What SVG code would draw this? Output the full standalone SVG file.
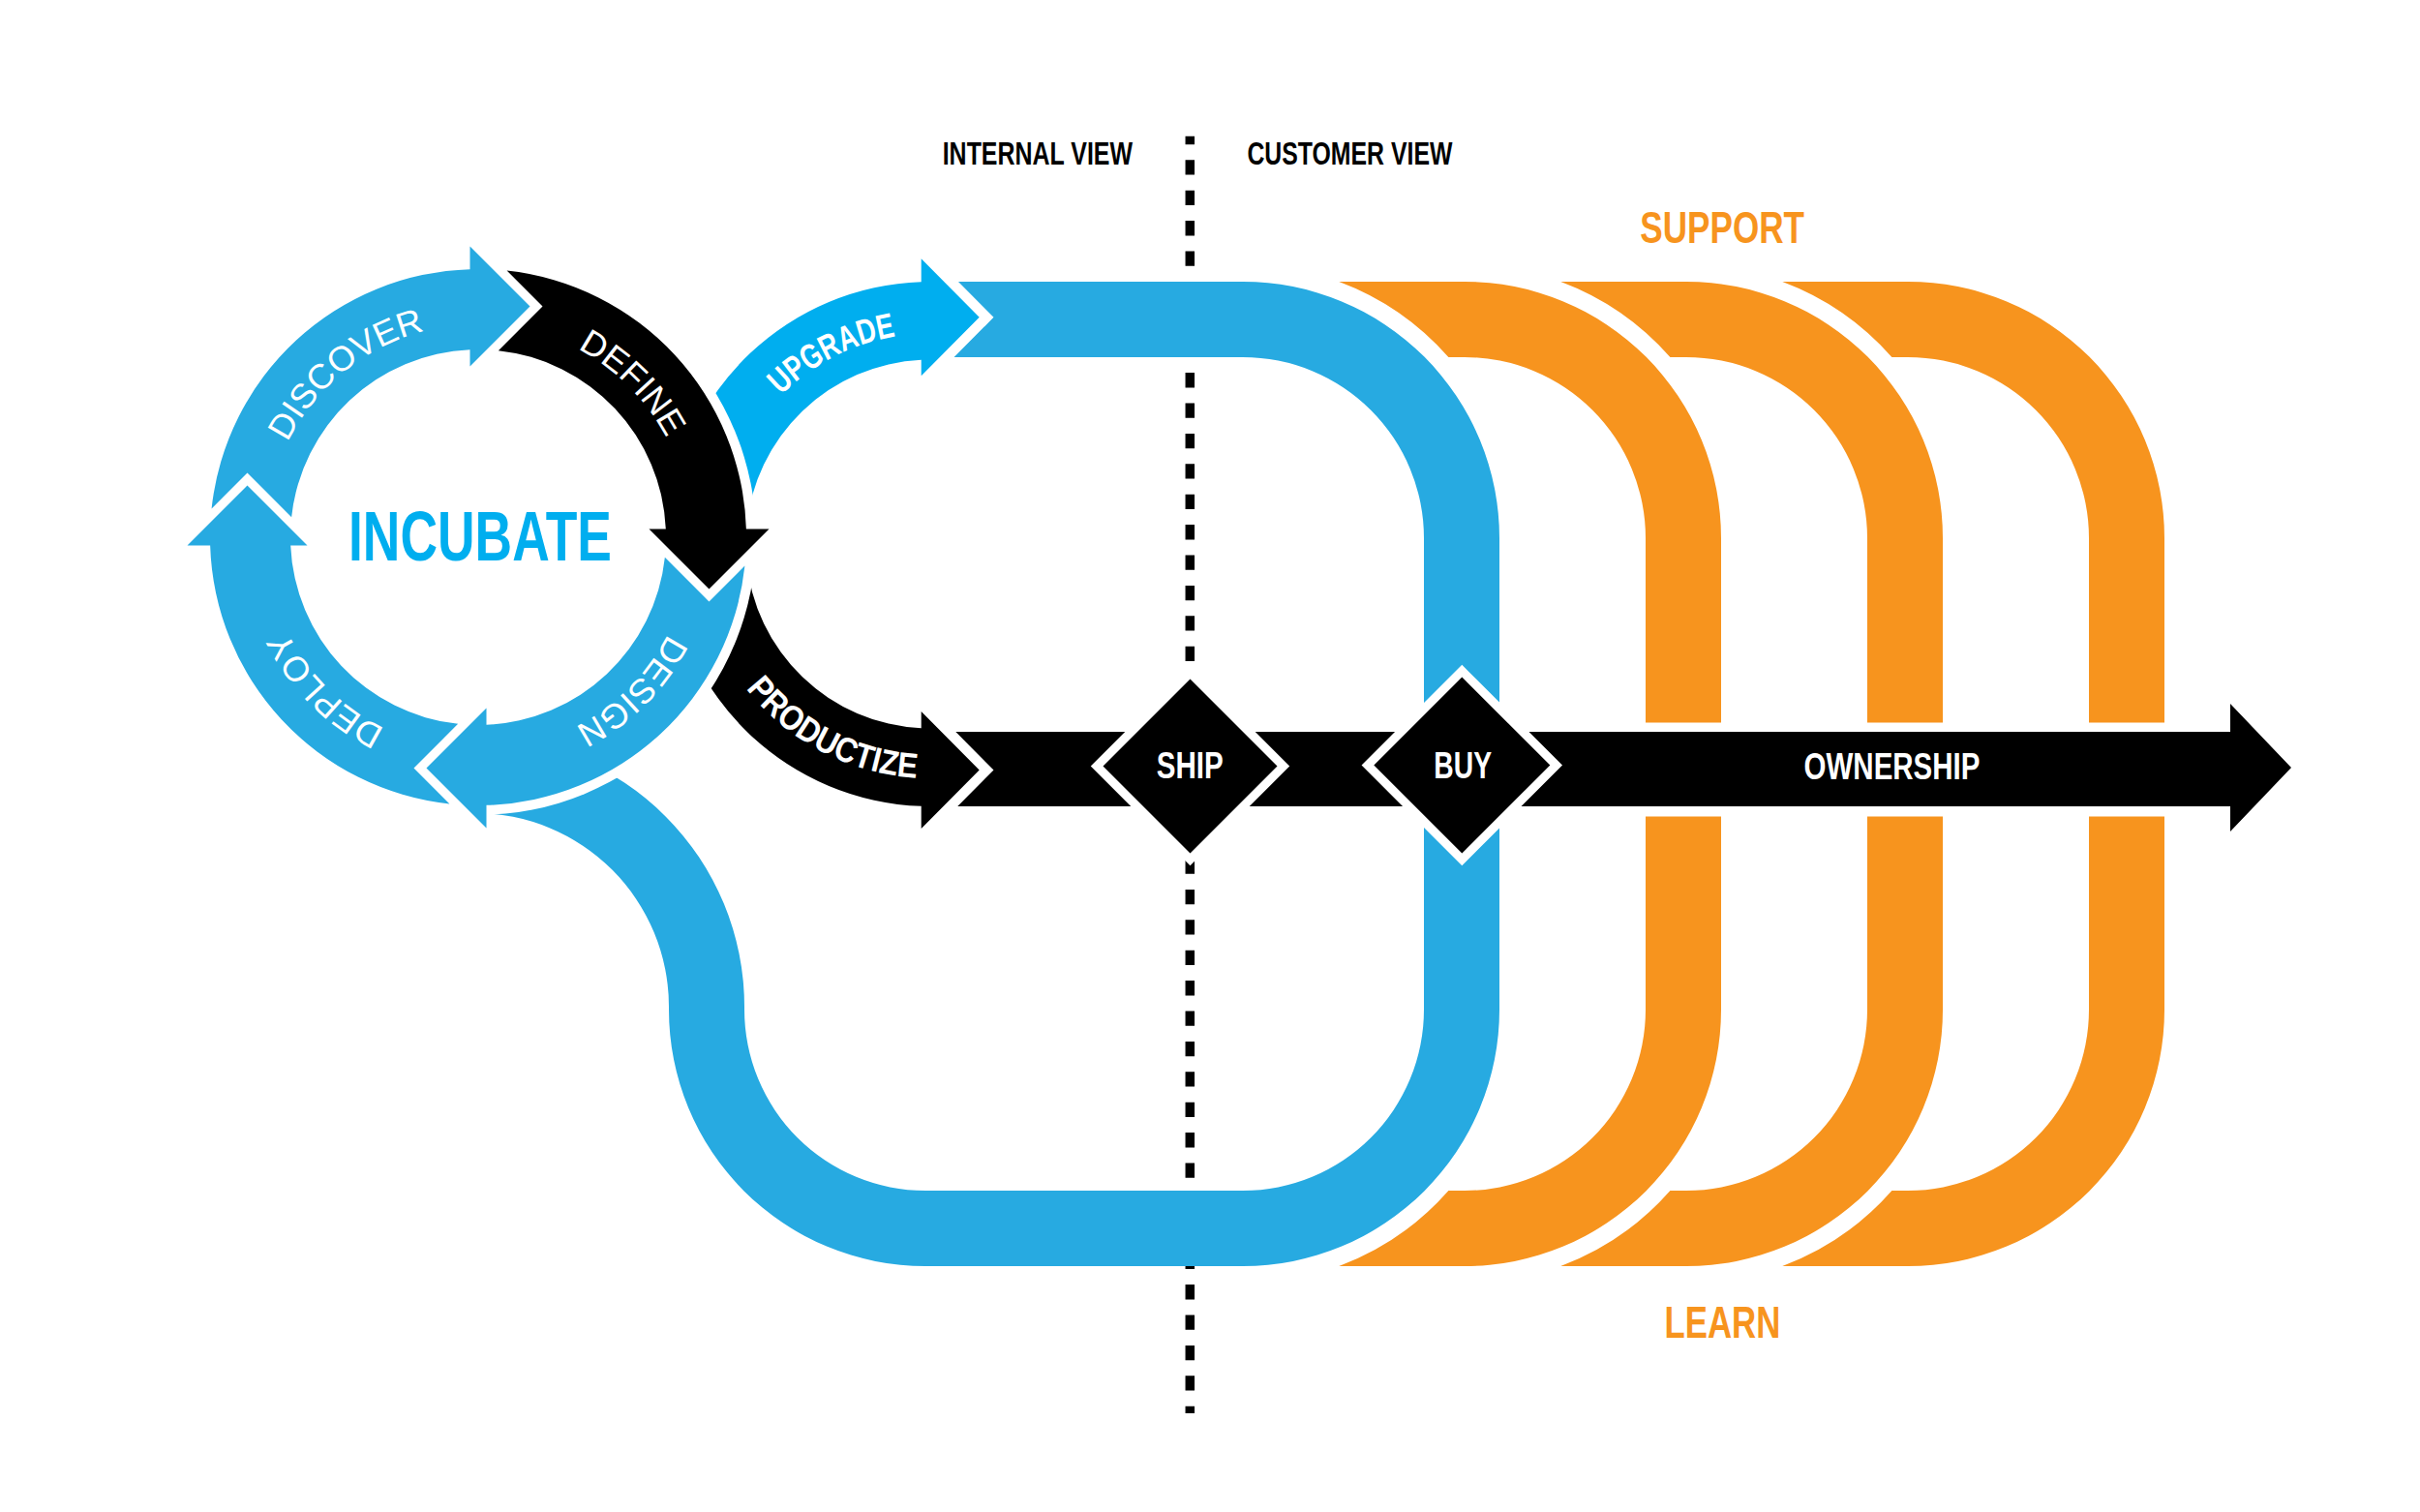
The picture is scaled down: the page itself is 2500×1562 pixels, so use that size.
<svg xmlns="http://www.w3.org/2000/svg" width="2500" height="1562" viewBox="0 0 2500 1562">
<style>
.blue{fill:#27AAE1}
.cyan{fill:#00AEEF}
.black{fill:#000000}
.orange{fill:#F7941E}
.halo{stroke:#ffffff;stroke-linejoin:miter;paint-order:stroke fill}
.t{font-family:"Liberation Sans",Arial,sans-serif}
.arc{font-size:36px;fill:#ffffff}
.bold{font-weight:bold}
.node{font-size:39px;font-weight:bold;fill:#ffffff}
.view{font-size:33.5px;font-weight:bold;fill:#000000}
.or{font-size:46px;font-weight:bold;fill:#F7941E}
</style>
<defs>
<path id="seg" d="M-275.42,-29.58 A277,277 0 0 1 -8.5,-276.87 L-8.5,-300.5 L53.5,-238.5 L-8.5,-176.5 L-8.5,-193.81 A194,194 0 0 0 -192.87,-20.87 L-238.5,-66.5 Z"/>
<path id="p-discover" d="M276.7,589.4 A220,220 0 0 1 572.8,349.6"/>
<path id="p-define" d="M437.1,342.5 A220,220 0 0 1 706.5,611.9"/>
<path id="p-design" d="M706.5,498.1 A220,220 0 0 1 437.1,767.5"/>
<path id="p-deploy" d="M550.9,767.5 A220,220 0 0 1 281.5,498.1"/>
<path id="p-upgrade" d="M743.75,551.56 A217.5,217.5 0 0 1 1078.67,379.08"/>
<path id="p-productize" d="M719.2,572.1 A242,242 0 0 0 1090.7,766.3"/>
</defs>
<rect width="2500" height="1562" fill="#ffffff"/>

<g id="divider">
<line x1="1229.3" y1="140.7" x2="1229.3" y2="1460" stroke="#000000" stroke-width="9.5" stroke-dasharray="15.3 16.1" stroke-dashoffset="6.8"/>
</g>

<g id="connectors">
<path id="loop-blue" class="blue" d="M960,291 H1284 A265,265 0 0 1 1549,556 V1043 A265,265 0 0 1 1284,1308 H956 A265,265 0 0 1 691,1043 V1040 A200,200 0 0 0 491,840 L491,762 A278,278 0 0 1 769,1040 V1043 A187,187 0 0 0 956,1230 H1284 A187,187 0 0 0 1471,1043 V556 A187,187 0 0 0 1284,369 H960 Z"/>
<path class="orange" d="M1383.3,291 H1513 A265,265 0 0 1 1778,556 V746.5 H1700 V556 A187,187 0 0 0 1513,369 H1496.4 A283,283 0 0 0 1383.3,291 Z"/>
<path class="orange" d="M1778,843.5 V1043 A265,265 0 0 1 1513,1308 H1383.3 A283,283 0 0 0 1496.4,1230 H1513 A187,187 0 0 0 1700,1043 V843.5 Z"/>
<path class="orange" d="M1612.3,291 H1742 A265,265 0 0 1 2007,556 V746.5 H1929 V556 A187,187 0 0 0 1742,369 H1725.4 A283,283 0 0 0 1612.3,291 Z"/>
<path class="orange" d="M2007,843.5 V1043 A265,265 0 0 1 1742,1308 H1612.3 A283,283 0 0 0 1725.4,1230 H1742 A187,187 0 0 0 1929,1043 V843.5 Z"/>
<path class="orange" d="M1841.3,291 H1971 A265,265 0 0 1 2236,556 V746.5 H2158 V556 A187,187 0 0 0 1971,369 H1954.4 A283,283 0 0 0 1841.3,291 Z"/>
<path class="orange" d="M2236,843.5 V1043 A265,265 0 0 1 1971,1308 H1841.3 A283,283 0 0 0 1954.4,1230 H1971 A187,187 0 0 0 2158,1043 V843.5 Z"/>
<path id="band-black" class="black" d="M960,756 H2304 V727 L2367,793 L2304,859 V833 H960 Z"/>
</g>

<g id="upgrade">
<path class="cyan halo" stroke-width="21" d="M691.03,538.38 A271,271 0 0 1 951.7,291.16 L951.7,267.3 L1011.7,327.8 L951.7,388.3 L951.7,371.73 A190.5,190.5 0 0 0 771.22,545.4 Z"/>
<text class="t arc bold"><textPath href="#p-upgrade" startOffset="50%" text-anchor="middle" textLength="135.5" lengthAdjust="spacingAndGlyphs">UPGRADE</textPath></text>
</g>
<g id="productize">
<path class="black halo" stroke-width="21" d="M691.03,585.62 A271,271 0 0 0 951.7,832.84 L951.7,856 L1011.7,795.5 L951.7,735 L951.7,752.27 A190.5,190.5 0 0 1 771.22,578.6 Z"/>
<text class="t arc bold"><textPath href="#p-productize" startOffset="50%" text-anchor="middle" textLength="205" lengthAdjust="spacingAndGlyphs">PRODUCTIZE</textPath></text>
</g>

<circle cx="494" cy="555" r="287" fill="#ffffff"/>

<g id="discover">
<use href="#seg" class="blue" transform="translate(494 555)"/>
<text class="t arc"><textPath href="#p-discover" startOffset="50%" text-anchor="middle">DISCOVER</textPath></text>
</g>
<g id="define">
<use href="#seg" class="black" transform="translate(494 555) rotate(90)"/>
<text class="t arc"><textPath href="#p-define" startOffset="50%" text-anchor="middle">DEFINE</textPath></text>
</g>
<g id="design">
<use href="#seg" class="blue" transform="translate(494 555) rotate(180)"/>
<text class="t arc"><textPath href="#p-design" startOffset="50%" text-anchor="middle">DESIGN</textPath></text>
</g>
<g id="deploy">
<use href="#seg" class="blue" transform="translate(494 555) rotate(270)"/>
<text class="t arc"><textPath href="#p-deploy" startOffset="50%" text-anchor="middle">DEPLOY</textPath></text>
</g>
<g id="incubate">
<text class="t" x="360" y="579" font-size="72.6" font-weight="bold" fill="#00AEEF" textLength="272" lengthAdjust="spacingAndGlyphs">INCUBATE</text>
</g>

<g id="ship">
<path class="black halo" stroke-width="18" d="M1229.5,701.5 L1319.5,791.5 L1229.5,881.5 L1139.5,791.5 Z"/>
<text class="t node" x="1194.8" y="803.5" textLength="69" lengthAdjust="spacingAndGlyphs">SHIP</text>
</g>
<g id="buy">
<path class="black halo" stroke-width="18" d="M1510.3,699.5 L1601.3,790.5 L1510.3,881.5 L1419.3,790.5 Z"/>
<text class="t node" x="1481.3" y="803.5" textLength="59.7" lengthAdjust="spacingAndGlyphs">BUY</text>
</g>
<g id="ownership">
<text class="t node" x="1863.6" y="805" textLength="181.8" lengthAdjust="spacingAndGlyphs">OWNERSHIP</text>
</g>

<g id="internal-view">
<text class="t view" x="973.7" y="170" textLength="196.3" lengthAdjust="spacingAndGlyphs">INTERNAL VIEW</text>
</g>
<g id="customer-view">
<text class="t view" x="1288.4" y="170" textLength="212" lengthAdjust="spacingAndGlyphs">CUSTOMER VIEW</text>
</g>
<g id="support">
<text class="t or" x="1694.3" y="251" textLength="169.7" lengthAdjust="spacingAndGlyphs">SUPPORT</text>
</g>
<g id="learn">
<text class="t or" x="1719.6" y="1382" textLength="119.7" lengthAdjust="spacingAndGlyphs">LEARN</text>
</g>
</svg>
